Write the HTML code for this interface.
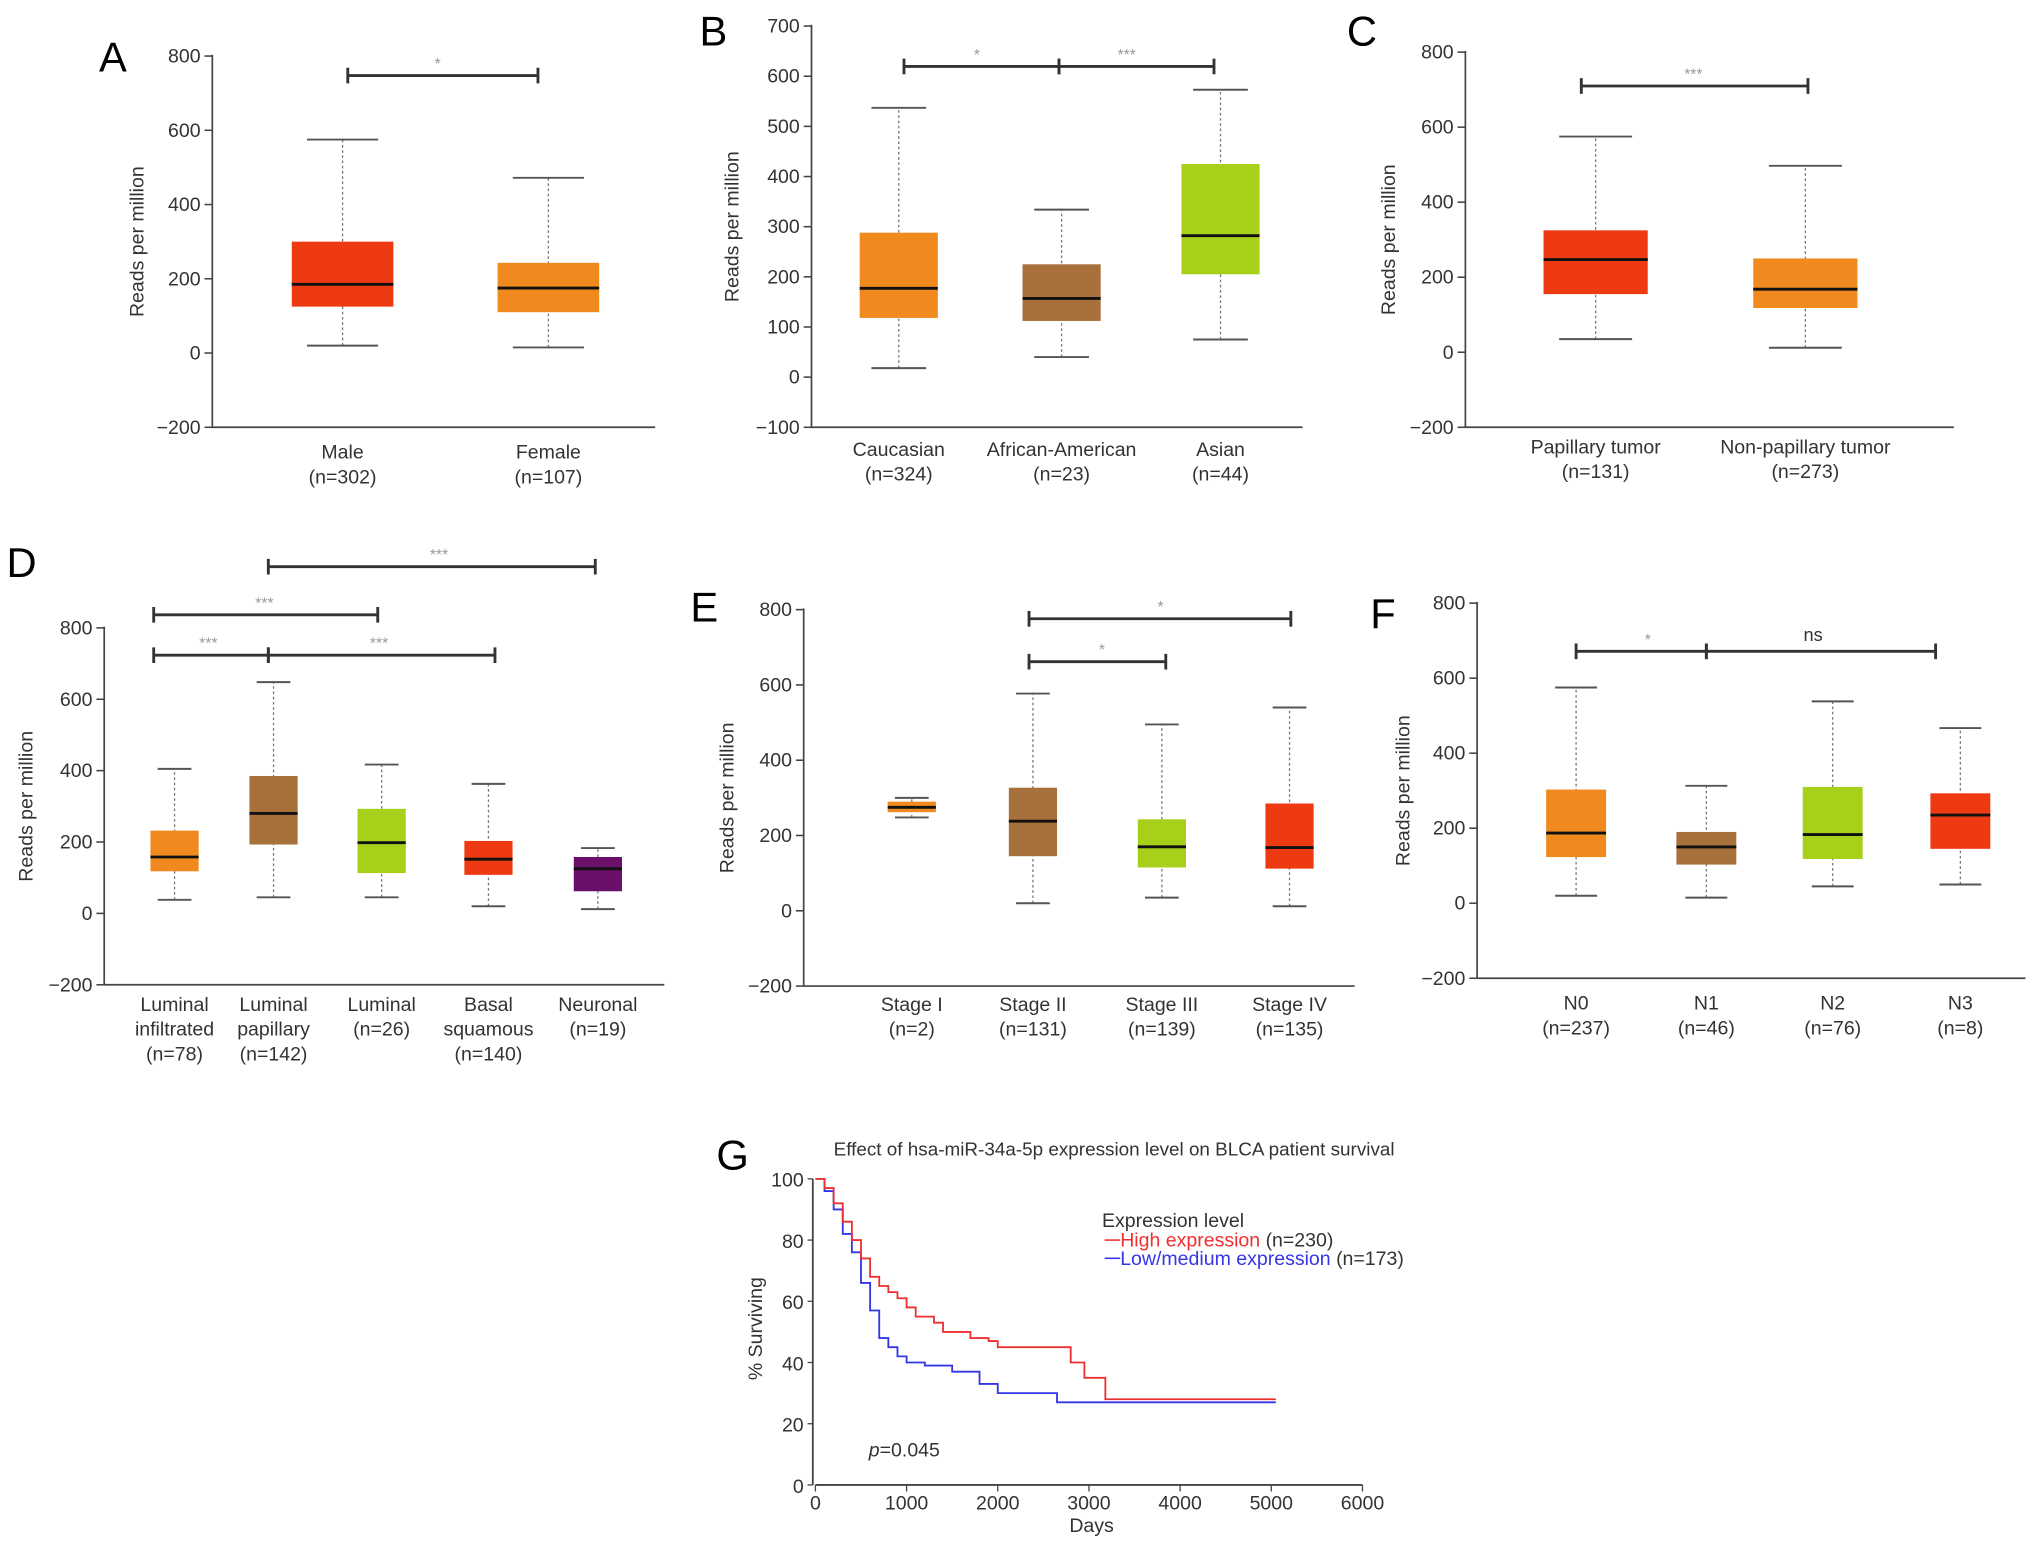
<!DOCTYPE html>
<html><head><meta charset="utf-8"><style>
body{margin:0;background:#fff}
svg{display:block;font-family:"Liberation Sans",sans-serif}
</style></head><body>
<svg id="s" width="2032" height="1541" viewBox="0 0 1560 1183" xmlns="http://www.w3.org/2000/svg"></svg>
<script>
const panelALabels=[["Male","(n=302)"],["Female","(n=107)"]];
const panelAStats=[[20,125,185,300,575],[15,110,175,243,472]];
const panelBLabels=[["Caucasian","(n=324)"],["African-American","(n=23)"],["Asian","(n=44)"]];
const panelBStats=[[18,118,177,288,537],[40,112,157,225,334],[75,205,282,425,573]];
const panelCLabels=[["Papillary tumor","(n=131)"],["Non-papillary tumor","(n=273)"]];
const panelCStats=[[35,155,247,325,575],[12,118,168,250,497]];
const panelDLabels=[["Luminal","infiltrated","(n=78)"],["Luminal","papillary","(n=142)"],["Luminal","(n=26)"],["Basal","squamous","(n=140)"],["Neuronal","(n=19)"]];
const panelDStats=[[38,118,158,232,405],[45,193,280,385,648],[45,113,198,293,417],[20,108,152,203,363],[12,62,125,158,183]];
const panelELabels=[["Stage I","(n=2)"],["Stage II","(n=131)"],["Stage III","(n=139)"],["Stage IV","(n=135)"]];
const panelEStats=[[248,262,275,290,300],[20,145,238,327,577],[35,115,170,243,495],[12,112,168,285,540]];
const panelFLabels=[["N0","(n=237)"],["N1","(n=46)"],["N2","(n=76)"],["N3","(n=8)"]];
const panelFStats=[[20,123,187,303,575],[15,103,150,190,313],[45,118,183,310,538],[50,145,235,293,467]];
const kmHighDays=[0,100,200,300,400,500,600,700,800,900,1000,1100,1300,1400,1700,1900,2000,2700,2800,2950,3180,5050];
const kmHighSurv=[100,97,92,86,80,74,68,65,63,61,58,55,53,50,48,47,45,45,40,35,28,28];
const kmLowDays=[0,100,200,300,400,500,600,700,800,900,1000,1200,1500,1800,2000,2650,5050];
const kmLowSurv=[100,96,90,82,76,66,57,48,45,42,40,39,37,33,30,27,27];

const S=document.getElementById('s');const NS='http://www.w3.org/2000/svg';
function el(t,a,txt){const e=document.createElementNS(NS,t);for(const k in a)e.setAttribute(k,a[k]);if(txt!==undefined)e.textContent=txt;S.appendChild(e);return e;}
function text(x,y,s,size,anchor,fill,name){const e=el('text',{x:x,y:y,'font-size':size,'text-anchor':anchor||'middle',fill:fill||'#222'},s);

return e;}

function boxPanel(p){
 const yS=v=>p.y0+(v-p.vmin)/(p.vmax-p.vmin)*(p.yTop-p.y0);
 const ax=el('path',{d:`M${p.ax},${p.yTop-1}V${p.y0}H${p.xEnd}`,stroke:'#444','stroke-width':1.3,fill:'none'});
 
 
 for(let v=p.vmin;v<=p.vmax;v+=p.step){const y=yS(v);el('line',{x1:p.ax-6,x2:p.ax,y1:y,y2:y,stroke:'#444','stroke-width':1.2});
  text(p.ax-9,y+5,v<0?'\u2212'+(-v):String(v),15,'end','#333','y-tick-label');}
 const yt=text(p.ytx,(p.yTop+p.y0)/2,'Reads per million',15,'middle','#333','y-axis-title');
 yt.setAttribute('transform',`rotate(-90 ${p.ytx} ${(p.yTop+p.y0)/2})`);
 const pl=text(p.lx,p.ly,p.id,32,'start','#000','panel-label-'+p.id);
 p.stats.forEach((s,i)=>{const cx=p.cx[i],w=p.bw/2;
  const g=el('g',{});
  const add=(t,a)=>{const e=document.createElementNS(NS,t);for(const k in a)e.setAttribute(k,a[k]);g.appendChild(e);};
  add('line',{x1:cx,x2:cx,y1:yS(s[0]),y2:yS(s[4]),stroke:'#777','stroke-width':1,'stroke-dasharray':'2,2'});
  add('line',{x1:cx-w*0.7,x2:cx+w*0.7,y1:yS(s[0]),y2:yS(s[0]),stroke:'#555','stroke-width':1.5});
  add('line',{x1:cx-w*0.7,x2:cx+w*0.7,y1:yS(s[4]),y2:yS(s[4]),stroke:'#555','stroke-width':1.5});
  add('rect',{x:cx-w,y:yS(s[3]),width:2*w,height:yS(s[1])-yS(s[3]),fill:p.colors[i]});
  add('line',{x1:cx-w,x2:cx+w,y1:yS(s[2]),y2:yS(s[2]),stroke:'#111','stroke-width':2.2});
  p.labels[i].forEach((l,j)=>text(cx,p.labY+j*19,l,15,'middle','#333','x-tick-label'));
 });
 p.sig.forEach(b=>{const e=el('path',{d:`M${b[0]},${b[2]-6}v12M${b[0]},${b[2]}H${b[1]}M${b[1]},${b[2]-6}v12`,stroke:'#333','stroke-width':2.2,fill:'none'});
  
  text(b[4],b[2]-(b[3]=='ns'?8:5),b[3],b[3]=='ns'?14:12,'middle',b[3]=='ns'?'#333':'#999','significance-label');});
}
const R='#ee3a12',O='#f08a1e',B='#a8703a',L='#a6d01a',P='#6a0f6a';
boxPanel({id:'A',ax:163,yTop:43,y0:328,vmin:-200,vmax:800,step:200,xEnd:503,ytx:110,lx:76,ly:55,cx:[263,421],bw:78,colors:[R,O],stats:panelAStats,labels:panelALabels,labY:352,sig:[[267,413,58,'*',336]]});
boxPanel({id:'B',ax:623,yTop:20,y0:328,vmin:-100,vmax:700,step:100,xEnd:1000,ytx:567,lx:537,ly:35,cx:[690,815,937],bw:60,colors:[O,B,L],stats:panelBStats,labels:panelBLabels,labY:350,sig:[[694,813,51,'*',750],[813,932,51,'***',865]]});
boxPanel({id:'C',ax:1125,yTop:40,y0:328,vmin:-200,vmax:800,step:200,xEnd:1500,ytx:1071,lx:1034,ly:35,cx:[1225,1386],bw:80,colors:[R,O],stats:panelCStats,labels:panelCLabels,labY:348,sig:[[1214,1388,66,'***',1300]]});
boxPanel({id:'D',ax:80,yTop:482,y0:756,vmin:-200,vmax:800,step:200,xEnd:510,ytx:25,lx:5,ly:443,cx:[134,210,293,375,459],bw:37,colors:[O,B,L,R,P],stats:panelDStats,labels:panelDLabels,labY:776,sig:[[206,457,435,'***',337],[118,290,472,'***',203],[118,206,503,'***',160],[206,380,503,'***',291]]});
boxPanel({id:'E',ax:617,yTop:468,y0:757,vmin:-200,vmax:800,step:200,xEnd:1040,ytx:563,lx:530,ly:477,cx:[700,793,892,990],bw:37,colors:[O,B,L,R],stats:panelEStats,labels:panelELabels,labY:776,sig:[[790,991,475,'*',891],[790,895,508,'*',846]]});
boxPanel({id:'F',ax:1134,yTop:463,y0:751,vmin:-200,vmax:800,step:200,xEnd:1555,ytx:1082,lx:1052,ly:482,cx:[1210,1310,1407,1505],bw:46,colors:[O,B,L,R],stats:panelFStats,labels:panelFLabels,labY:775,sig:[[1210,1310,500,'*',1265],[1310,1486,500,'ns',1392]]});

// Panel G
const gx=d=>626+d/6000*420, gy=v=>1140-v/100*235;
const ga=el('path',{d:`M624,905V1140M626,1140H1046`,stroke:'#444','stroke-width':1.4,fill:'none'});

for(let v=0;v<=100;v+=20){el('line',{x1:620,x2:624,y1:gy(v),y2:gy(v),stroke:'#444'});text(617,gy(v)+6,String(v),15,'end','#333','y-tick-label');}
for(let d=0;d<=6000;d+=1000){el('line',{x1:gx(d),x2:gx(d),y1:1140,y2:1145,stroke:'#444'});text(gx(d),1159,String(d),15,'middle','#333','x-tick-label');}
text(838,1176,'Days',15,'middle','#333','x-axis-title');
const st=text(585,1020,'% Surviving',15,'middle','#333','y-axis-title');st.setAttribute('transform','rotate(-90 585 1020)');
text(640,887,'Effect of hsa-miR-34a-5p expression level on BLCA patient survival',14.5,'start','#333','chart-title');
text(550,898,'G',32,'start','#000','panel-label-G');
function km(days,surv,color,name){let d=`M${gx(days[0])},${gy(surv[0])}`;
 for(let i=1;i<days.length;i++){d+=`H${gx(days[i])}V${gy(surv[i])}`;}
 const e=el('path',{d:d,stroke:color,'stroke-width':1.4,fill:'none'});
 }
km(kmLowDays,kmLowSurv,'#3535e8','km-low-medium-line');
km(kmHighDays,kmHighSurv,'#ee3030','km-high-line');
text(846,942,'Expression level',15,'start','#333','legend-title');
el('line',{x1:848,x2:860,y1:952,y2:952,stroke:'#ee3030','stroke-width':1.2});
const t1=text(860,957,'',15,'start','#333','legend-entry-high');t1.innerHTML='<tspan fill="#ee3030">High expression</tspan> (n=230)';
el('line',{x1:848,x2:860,y1:966,y2:966,stroke:'#3535e8','stroke-width':1.2});
const t2=text(860,971,'',15,'start','#333','legend-entry-low');t2.innerHTML='<tspan fill="#3535e8">Low/medium expression</tspan> (n=173)';
const pv=text(667,1118,'',15,'start','#333','p-value');pv.innerHTML='<tspan font-style="italic">p</tspan>=0.045';
</script>
</body></html>
